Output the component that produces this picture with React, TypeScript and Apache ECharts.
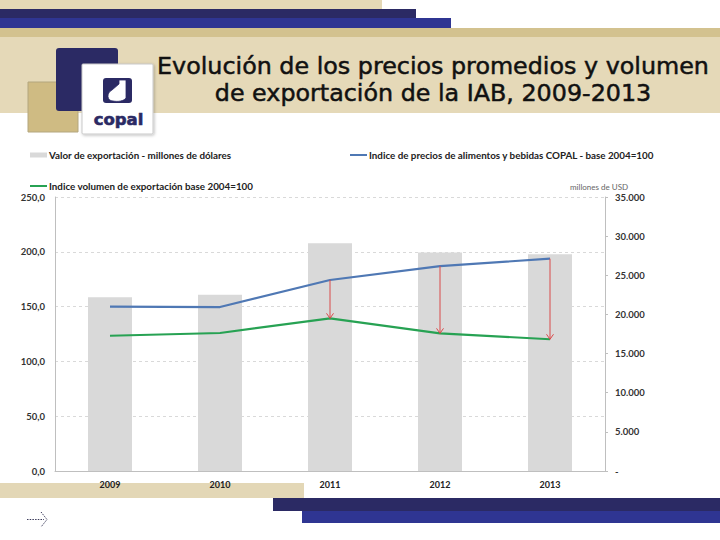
import React, { useEffect, useRef } from "react";
import * as echarts from "echarts";

const categories = ["2009", "2010", "2011", "2012", "2013"];
const exportValue = [22200, 22500, 29100, 27900, 27700];
const priceIndex = [150.0, 149.6, 174.3, 187.0, 193.7];
const volumeIndex = [123.4, 125.9, 139.3, 125.6, 120.2];
const arrowIndices = [2, 3, 4];

const leftMin = 0;
const leftMax = 250;
const leftInterval = 50;
const rightMin = 0;
const rightMax = 35000;
const rightInterval = 5000;

const nameBars = "Valor de exportación - millones de dólares";
const namePrice = "Indice de precios de alimentos y bebidas COPAL - base 2004=100";
const nameVolume = "Indice volumen de exportación base 2004=100";

const titleLine1 = "Evolución de los precios promedios y volumen";
const titleLine2 = "de exportación de la IAB, 2009-2013";
const unitLabel = "millones de USD";

const FONT = "Lato, 'Open Sans', sans-serif";
const NAVY = "#2b2a64";
const BLUE = "#2f3592";

echarts.graphic.registerShape(
  "flask",
  echarts.graphic.extendPath(
    "M 9 23 C 3 23 2 15 8 12 L 15 6 L 15 2 L 22 2 L 22 20 C 20 23 14 24 9 23 Z",
    {}
  )
);

const legendText = {
  fontSize: 9.8,
  fontWeight: "bold",
  color: "#222",
  fontFamily: FONT,
  padding: [0, 0, 0, -3],
};

export default function App() {
  const ref = useRef<HTMLDivElement>(null);

  useEffect(() => {
    if (!ref.current) return;
    const chart = echarts.init(ref.current, undefined, { renderer: "svg" });

    const arrowData = arrowIndices.map((i) => [i, priceIndex[i], volumeIndex[i]]);

    const titleStyle = (text: string, y: number) => ({
      type: "text",
      z: -5,
      style: {
        text,
        x: 433,
        y,
        fill: "#111",
        stroke: "#111",
        lineWidth: 0.5,
        fontSize: 23.8,
        fontFamily: "'DejaVu Sans', sans-serif",
        textAlign: "center",
        textVerticalAlign: "middle",
        verticalAlign: "middle",
      },
    });

    const option: any = {
      animation: false,
      backgroundColor: "#ffffff",
      textStyle: { fontFamily: FONT },
      grid: { left: 55, right: 115, top: 197, bottom: 69, containLabel: false },
      legend: [
        {
          data: [{ name: nameBars, icon: "rect" }],
          left: 30,
          top: 150,
          padding: 0,
          itemWidth: 17,
          itemHeight: 5,
          selectedMode: false,
          textStyle: legendText,
        },
        {
          data: [{ name: namePrice, icon: "rect" }],
          left: 350,
          top: 150,
          padding: 0,
          itemWidth: 17,
          itemHeight: 2,
          selectedMode: false,
          textStyle: legendText,
        },
        {
          data: [{ name: nameVolume, icon: "rect" }],
          left: 30,
          top: 181,
          padding: 0,
          itemWidth: 17,
          itemHeight: 2,
          selectedMode: false,
          textStyle: legendText,
        },
      ],
      xAxis: {
        type: "category",
        data: categories,
        boundaryGap: true,
        axisLine: { show: true, lineStyle: { color: "#bfbfbf", width: 1 } },
        axisTick: { show: false },
        axisLabel: { fontSize: 9, fontWeight: "bold", color: "#222", margin: 9, fontFamily: FONT },
        splitLine: { show: false },
      },
      yAxis: [
        {
          type: "value",
          min: leftMin,
          max: leftMax,
          interval: leftInterval,
          position: "left",
          axisLine: { show: true, lineStyle: { color: "#bfbfbf", width: 1 } },
          axisTick: { show: false },
          axisLabel: {
            fontSize: 9.5,
            fontWeight: "bold",
            color: "#333",
            margin: 10,
            fontFamily: FONT,
            formatter: (v: number) => v.toFixed(1).replace(".", ","),
          },
          splitLine: { show: true, lineStyle: { color: "#d9d9d9", type: [3, 3], width: 1 } },
        },
        {
          type: "value",
          min: rightMin,
          max: rightMax,
          interval: rightInterval,
          position: "right",
          axisLine: { show: true, lineStyle: { color: "#bfbfbf", width: 1 } },
          axisTick: { show: true, length: 3, lineStyle: { color: "#bfbfbf" } },
          axisLabel: {
            fontSize: 9.5,
            fontWeight: "bold",
            color: "#333",
            margin: 10,
            fontFamily: FONT,
            formatter: (v: number) =>
              v === 0 ? "-" : String(v).replace(/\B(?=(\d{3})+(?!\d))/g, "."),
          },
          splitLine: { show: false },
        },
      ],
      series: [
        {
          name: nameBars,
          type: "bar",
          yAxisIndex: 1,
          data: exportValue,
          barWidth: 44,
          itemStyle: { color: "#d9d9d9" },
          z: 1,
        },
        {
          name: namePrice,
          type: "line",
          yAxisIndex: 0,
          data: priceIndex,
          showSymbol: false,
          symbol: "none",
          lineStyle: { color: "#4f78b4", width: 2.2 },
          itemStyle: { color: "#4f78b4" },
          z: 3,
        },
        {
          name: nameVolume,
          type: "line",
          yAxisIndex: 0,
          data: volumeIndex,
          showSymbol: false,
          symbol: "none",
          lineStyle: { color: "#27a253", width: 2.2 },
          itemStyle: { color: "#27a253" },
          z: 3,
        },
        {
          name: "arrows",
          type: "custom",
          yAxisIndex: 0,
          data: arrowData,
          z: 4,
          renderItem: (params: any, api: any) => {
            const p1 = api.coord([api.value(0), api.value(1)]);
            const p2 = api.coord([api.value(0), api.value(2)]);
            const c = "#d94a4a";
            return {
              type: "group",
              children: [
                {
                  type: "line",
                  shape: { x1: p1[0], y1: p1[1], x2: p2[0], y2: p2[1] },
                  style: { stroke: c, lineWidth: 1 },
                },
                {
                  type: "polyline",
                  shape: {
                    points: [
                      [p2[0] - 3.5, p2[1] - 5],
                      [p2[0], p2[1]],
                      [p2[0] + 3.5, p2[1] - 5],
                    ],
                  },
                  style: { stroke: c, lineWidth: 1, fill: null },
                },
              ],
            };
          },
        },
      ],
      graphic: [
        { type: "rect", z: -10, shape: { x: 0, y: 0, width: 382, height: 9 }, style: { fill: "#e4d8b6" } },
        { type: "rect", z: -10, shape: { x: 0, y: 9, width: 416, height: 9 }, style: { fill: NAVY } },
        { type: "rect", z: -10, shape: { x: 0, y: 18, width: 451, height: 10 }, style: { fill: BLUE } },
        { type: "rect", z: -10, shape: { x: 0, y: 28, width: 720, height: 9 }, style: { fill: "#d3c28f" } },
        { type: "rect", z: -10, shape: { x: 0, y: 37, width: 720, height: 76 }, style: { fill: "#e5d9b8" } },
        {
          type: "rect",
          z: -9,
          shape: { x: 28, y: 82, width: 50, height: 50 },
          style: { fill: "#cfbb83", stroke: "#b3a67f", lineWidth: 1 },
        },
        {
          type: "rect",
          z: -8,
          shape: { x: 56, y: 48, width: 62, height: 63, r: 3 },
          style: { fill: NAVY },
        },
        {
          type: "rect",
          z: -7,
          shape: { x: 82, y: 64, width: 71, height: 70, r: 1 },
          style: { fill: "#ffffff", stroke: "#c9c9c9", lineWidth: 1, shadowBlur: 3, shadowColor: "rgba(0,0,0,0.25)", shadowOffsetX: 1, shadowOffsetY: 1 },
        },
        {
          type: "rect",
          z: -6,
          shape: { x: 103, y: 78, width: 29, height: 25, r: 3 },
          style: { fill: NAVY },
        },
        {
          type: "flask",
          z: -5,
          x: 104,
          y: 78,
          scaleX: 1,
          scaleY: 1,
          style: { fill: "#ffffff", stroke: NAVY, lineWidth: 0.8 },
        },
        {
          type: "text",
          z: -5,
          style: {
            text: "copal",
            x: 118.5,
            y: 119,
            fill: NAVY,
            stroke: NAVY,
            lineWidth: 0.6,
            fontSize: 16.5,
            fontWeight: "bold",
            fontFamily: "'DejaVu Sans', sans-serif",
            textAlign: "center",
            textVerticalAlign: "middle",
            verticalAlign: "middle",
          },
        },
        titleStyle(titleLine1, 66),
        titleStyle(titleLine2, 93),
        {
          type: "text",
          style: {
            text: unitLabel,
            x: 570,
            y: 187,
            fill: "#666",
            fontSize: 8,
            fontFamily: FONT,
            textAlign: "left",
            textVerticalAlign: "middle",
            verticalAlign: "middle",
          },
        },
        { type: "rect", z: -10, shape: { x: 0, y: 483, width: 304, height: 15 }, style: { fill: "#e3d7b6" } },
        { type: "rect", z: -10, shape: { x: 273, y: 498, width: 447, height: 13 }, style: { fill: NAVY } },
        { type: "rect", z: -10, shape: { x: 302, y: 511, width: 418, height: 12 }, style: { fill: BLUE } },
        {
          type: "line",
          shape: { x1: 27, y1: 519.5, x2: 44, y2: 519.5 },
          style: { stroke: "#3a3a5a", lineWidth: 1, lineDash: [1.5, 1.2] },
        },
        {
          type: "polyline",
          shape: { points: [[41, 512], [47, 519.5], [41, 527]] },
          style: { stroke: "#3a3a5a", lineWidth: 1, lineDash: [1.5, 1.2], fill: null },
        },
      ],
    };

    chart.setOption(option);
    return () => chart.dispose();
  }, []);

  return (
    <div
      ref={ref}
      style={{ position: "fixed", left: 0, top: 0, width: 720, height: 540, background: "#fff" }}
    />
  );
}
